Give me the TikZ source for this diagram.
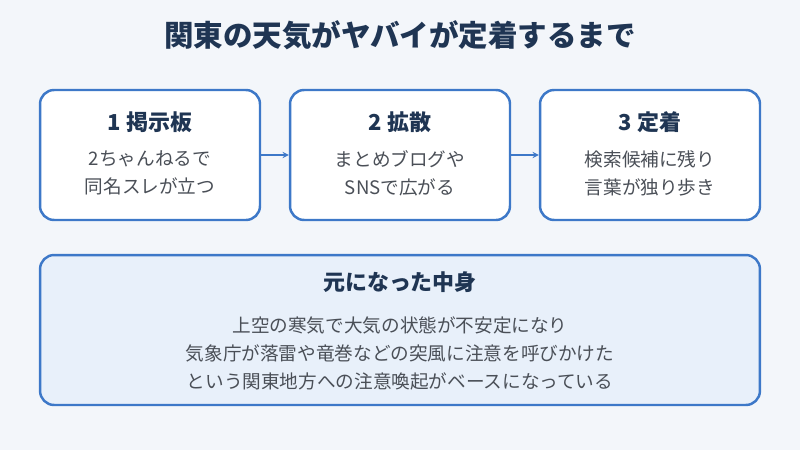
\documentclass[tikz,border=0pt]{standalone}
\usepackage{fontspec}
\setmainfont{Noto Sans CJK JP}
\usetikzlibrary{positioning}
\definecolor{bgcol}{HTML}{F3F6FA}
\definecolor{navy}{HTML}{1F3553}
\definecolor{edgeblue}{HTML}{3D78C8}
\definecolor{bodygray}{HTML}{4A4F57}
\definecolor{paleblue}{HTML}{E8F0FA}
\begin{document}
\begin{tikzpicture}
		[x=0.02cm,y=-0.02cm,
		stagebox/.style={rectangle,rounded corners=8pt,draw=edgeblue,fill=white,line width=1.4pt,
minimum width=4.4cm,minimum height=2.6cm,inner sep=0pt},
		basebox/.style={rectangle,rounded corners=8pt,draw=edgeblue,fill=paleblue,line width=1.4pt,
minimum width=14.4cm,minimum height=3.0cm,inner sep=0pt},
		headstyle/.style={text=navy,font=\fontsize{12.5}{15}\selectfont\bfseries},
		textstyle/.style={text=bodygray,font=\fontsize{10.6}{15.9}\selectfont,align=center},
		edgestyle/.style={->,>=stealth,edgeblue,semithick}]
		\fill[bgcol] (0,0) rectangle (800,450);
		\node at (400,35) (title) [text=navy,font=\fontsize{16.8}{19}\selectfont\bfseries] {関東の天気がヤバイが定着するまで};
		% three stages
		\node at (150,155) (s1) [stagebox] {};
		\node at (400,155) (s2) [stagebox] {};
		\node at (650,155) (s3) [stagebox] {};
		\node at (150,122) (h1) [headstyle] {1 掲示板};
		\node at (400,122) (h2) [headstyle] {2 拡散};
		\node at (650,122) (h3) [headstyle] {3 定着};
		\node at (150,173) (t1) [textstyle] {2ちゃんねるで\\同名スレが立つ};
		\node at (400,173) (t2) [textstyle] {まとめブログや\\SNSで広がる};
		\node at (650,173) (t3) [textstyle] {検索候補に残り\\言葉が独り歩き};
		\draw[edgestyle] (s1) -- (s2);
		\draw[edgestyle] (s2) -- (s3);
		% origin
		\node at (400,330) (b) [basebox] {};
		\node at (400,282) (bh) [headstyle] {元になった中身};
		\node at (400,353) (bt) [textstyle] {上空の寒気で大気の状態が不安定になり\\気象庁が落雷や竜巻などの突風に注意を呼びかけた\\という関東地方への注意喚起がベースになっている};
	\end{tikzpicture}
\end{document}
